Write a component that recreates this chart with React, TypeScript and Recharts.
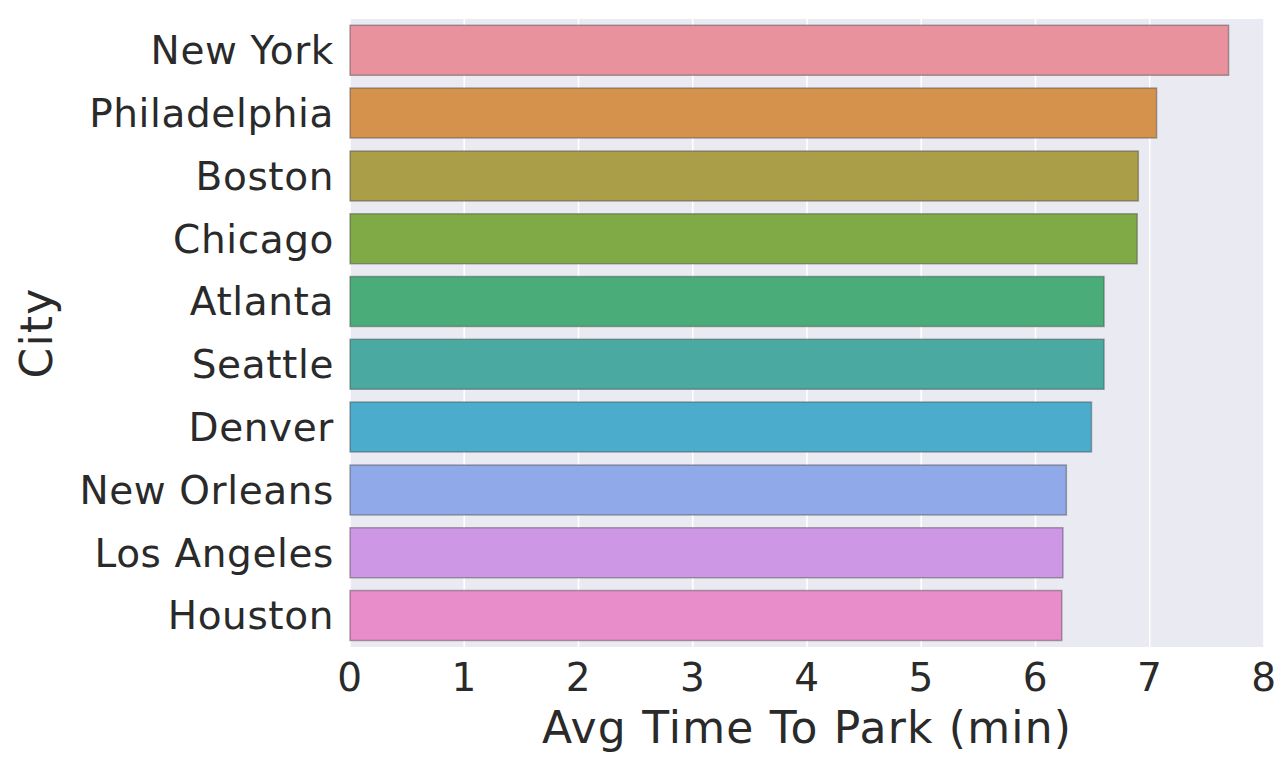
import { BarChart, Bar, XAxis, YAxis, CartesianGrid, Cell } from 'recharts'

const cities = [
  'New York',
  'Philadelphia',
  'Boston',
  'Chicago',
  'Atlanta',
  'Seattle',
  'Denver',
  'New Orleans',
  'Los Angeles',
  'Houston',
]
const avgMinutes = [7.69, 7.06, 6.9, 6.89, 6.6, 6.6, 6.49, 6.27, 6.24, 6.23]
const xTicks = [0, 1, 2, 3, 4, 5, 6, 7, 8]

const barColors = [
  '#e8929e',
  '#d5924c',
  '#ab9e48',
  '#80aa45',
  '#4aad79',
  '#4aaaa2',
  '#4caccc',
  '#90a9e8',
  '#cd97e6',
  '#e98cca',
]

const data = cities.map((city, i) => ({ city, minutes: avgMinutes[i] }))

const font = '"DejaVu Sans", sans-serif'
const ink = '#2a2a2a'

export default function App() {
  return (
    <div style={{ position: 'absolute', left: 0, top: 0, background: '#fff' }}>
      <BarChart
        width={1281}
        height={764}
        data={data}
        layout="vertical"
        margin={{ top: 19, right: 17, left: 0, bottom: 0 }}
        barCategoryGap="10%"
      >
        <CartesianGrid
          horizontal={false}
          stroke="#ffffff"
          strokeWidth={1.6}
          fill="#eaeaf2"
        />
        <XAxis
          type="number"
          domain={[0, 8]}
          ticks={xTicks}
          height={117}
          axisLine={false}
          tickLine={false}
          tickMargin={10}
          tick={{ fill: ink, fontSize: 39, fontFamily: font, letterSpacing: 0.6 }}
          label={{
            value: 'Avg Time To Park (min)',
            position: 'insideBottom',
            offset: 21,
            fill: ink,
            fontSize: 44,
            fontFamily: font,
            letterSpacing: 1.2,
          }}
        />
        <YAxis
          type="category"
          dataKey="city"
          width={350}
          axisLine={false}
          tickLine={false}
          tickMargin={10}
          interval={0}
          tick={{ fill: ink, fontSize: 39, fontFamily: font, letterSpacing: 0.6 }}
          label={({ viewBox }: any) => (
            <text
              transform={`translate(${viewBox.x + 52}, ${viewBox.y + viewBox.height / 2}) rotate(-90)`}
              textAnchor="middle"
              fill={ink}
              fontSize={44}
              fontFamily={font}
              letterSpacing={1.2}
            >
              City
            </text>
          )}
        />
        <Bar
          dataKey="minutes"
          isAnimationActive={false}
          stroke="rgba(70,70,70,0.45)"
          strokeWidth={1.5}
        >
          {data.map((d, i) => (
            <Cell key={d.city} fill={barColors[i]} />
          ))}
        </Bar>
      </BarChart>
    </div>
  )
}
